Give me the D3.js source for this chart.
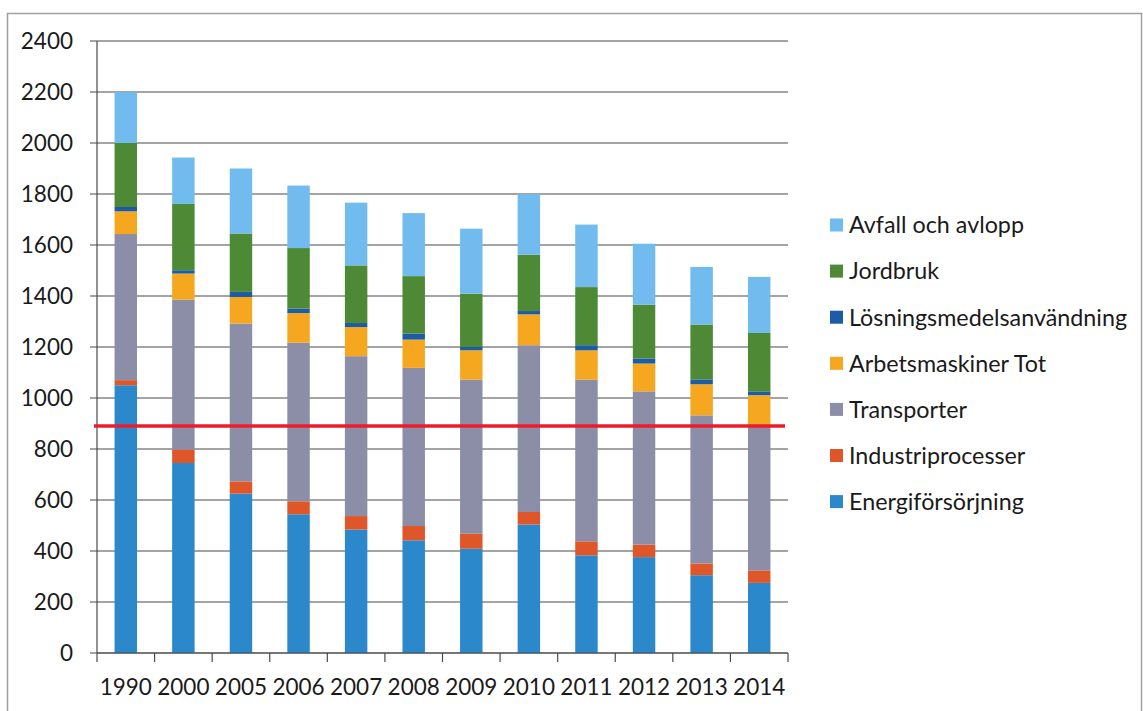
<!DOCTYPE html>
<html>
<head>
<meta charset="utf-8">
<script src="https://cdn.jsdelivr.net/npm/d3@7"></script>
<style>
html,body{margin:0;padding:0;background:#fff;}
svg{display:block;}
text{font-family:Lato, "Open Sans", sans-serif;fill:#1a1a1a;}
</style>
</head>
<body>
<svg id="chart" width="1143" height="711"></svg>
<script>
// ---- data ----
const years = ["1990","2000","2005","2006","2007","2008","2009","2010","2011","2012","2013","2014"];
const energiforsorjning = [1050, 745, 625, 544, 484, 442, 409, 504, 383, 376, 305, 275];
const industriprocesser = [20, 53, 48, 51, 53, 56, 59, 49, 55, 49, 46, 49];
const transporter = [573, 588, 619, 622, 627, 620, 604, 654, 634, 601, 581, 566];
const arbetsmaskiner = [89, 102, 104, 116, 114, 111, 115, 121, 115, 109, 122, 121];
const losningsmedel = [17, 13, 20, 18, 16, 24, 13, 13, 20, 20, 19, 15];
const jordbruk = [251, 260, 229, 237, 226, 225, 209, 221, 228, 211, 215, 229];
const avfall = [200, 182, 255, 245, 246, 247, 255, 237, 245, 239, 226, 220];
const targetLevel = 890;
const yTicks = [0,200,400,600,800,1000,1200,1400,1600,1800,2000,2200,2400];

const seriesNames = ["Energiförsörjning","Industriprocesser","Transporter","Arbetsmaskiner Tot","Lösningsmedelsanvändning","Jordbruk","Avfall och avlopp"];
const seriesValues = [energiforsorjning, industriprocesser, transporter, arbetsmaskiner, losningsmedel, jordbruk, avfall];
const seriesColors = ["#2b88cb","#df5629","#8b8ea6","#f5a81f","#1b5ca5","#4e8a35","#71bbee"];

(function(){
// ---- layout ----
const svg = d3.select("#chart");
const pl = 97, pr = 788, pt = 41, pb = 653;

// outer border
svg.append("rect").attr("x",7.5).attr("y",13.5).attr("width",1134).attr("height",720)
  .attr("fill","none").attr("stroke","#a0a0a0").attr("stroke-width",1.5);

const x = d3.scaleBand().domain(years).range([pl,pr]).paddingInner(0.61).paddingOuter(0.305);
const y = d3.scaleLinear().domain([0,2400]).range([pb,pt]);

// gridlines + y labels
const g = svg.append("g");
g.selectAll("line.grid").data(yTicks).join("line")
  .attr("class","grid")
  .attr("x1",pl-7).attr("x2",pr)
  .attr("y1",d=>y(d)).attr("y2",d=>y(d))
  .attr("stroke","#4a4a4a").attr("stroke-width",1.2);
g.selectAll("text.ylab").data(yTicks).join("text")
  .attr("class","ylab")
  .attr("x",73).attr("y",d=>y(d)).attr("dy","0.36em")
  .attr("text-anchor","end").attr("font-size",22.5)
  .text(d=>d);

// stacked data
const table = years.map((yr,i)=>{
  const o = {year:yr};
  seriesNames.forEach((n,k)=>o[n]=seriesValues[k][i]);
  return o;
});
const stack = d3.stack().keys(seriesNames)(table);

svg.append("g").selectAll("g").data(stack).join("g")
  .attr("fill",(d,i)=>seriesColors[i])
  .selectAll("rect").data(d=>d).join("rect")
  .attr("x",d=>x(d.data.year))
  .attr("width",x.bandwidth())
  .attr("y",d=>y(d[1]))
  .attr("height",d=>y(d[0])-y(d[1]));

// axes lines
svg.append("line").attr("x1",pl).attr("x2",pl).attr("y1",pt).attr("y2",pb)
  .attr("stroke","#4a4a4a").attr("stroke-width",1.2);
svg.append("line").attr("x1",pl).attr("x2",pr).attr("y1",pb).attr("y2",pb)
  .attr("stroke","#4a4a4a").attr("stroke-width",1.2);
const step = x.step();
const tickPos = d3.range(years.length+1).map(i=>x(years[0]) - x.paddingOuter()*step + i*step);
svg.selectAll("line.xt").data(tickPos).join("line")
  .attr("class","xt")
  .attr("x1",d=>d).attr("x2",d=>d).attr("y1",pb).attr("y2",pb+9)
  .attr("stroke","#4a4a4a").attr("stroke-width",1.2);
svg.selectAll("text.xlab").data(years).join("text")
  .attr("class","xlab")
  .attr("x",d=>x(d)+x.bandwidth()/2).attr("y",695)
  .attr("text-anchor","middle").attr("font-size",22.5)
  .text(d=>d);

// target line
svg.append("line").attr("x1",pl-3).attr("x2",pr-3)
  .attr("y1",y(targetLevel)).attr("y2",y(targetLevel))
  .attr("stroke","#ec1c2b").attr("stroke-width",3.5);

// legend (reverse order)
const legendOrder = d3.range(seriesNames.length).reverse();
const lg = svg.append("g");
legendOrder.forEach((k,i)=>{
  const cy = 225 + i*46.1;
  lg.append("rect").attr("x",830).attr("y",cy-6.5).attr("width",13).attr("height",13)
    .attr("fill",seriesColors[k]);
  lg.append("text").attr("x",849).attr("y",cy).attr("dy","0.36em")
    .attr("font-size",23.3).text(seriesNames[k]);
});
})();
</script>
</body>
</html>
